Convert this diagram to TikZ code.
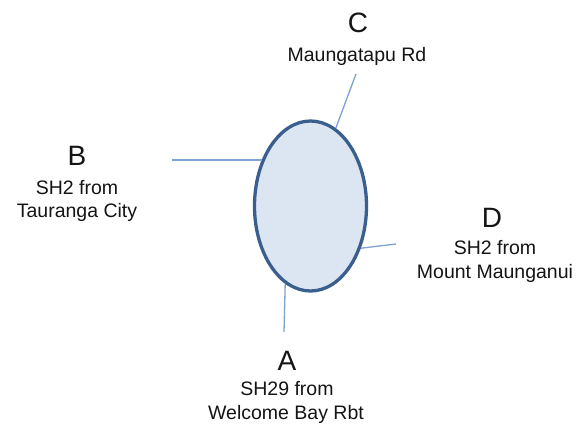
\documentclass[tikz,border=0pt]{standalone}
\usepackage{fontspec}
\setmainfont{Liberation Sans}
\usetikzlibrary{shapes.geometric}
\definecolor{rimblue}{HTML}{3A5F8E}
\definecolor{fillblue}{HTML}{DCE6F2}
\definecolor{roadblue}{HTML}{7EA2D2}
\definecolor{inkgrey}{HTML}{141414}
\tikzset{
  letter/.style={anchor=base, inner sep=0pt, text=inkgrey, font=\fontsize{28}{30}\selectfont},
  sub/.style={anchor=base, inner sep=0pt, text=inkgrey, font=\fontsize{19.5}{22}\selectfont},
  road/.style={draw=roadblue, line width=1.3pt},
  rbt/.style={ellipse, draw=rimblue, fill=fillblue, line width=3.3pt, minimum width=112pt, minimum height=170pt, inner sep=0pt}
}
\begin{document}
\begin{tikzpicture}[x=1pt,y=-1pt]
\useasboundingbox (0,0) rectangle (584,429);
\node[rbt] (e) at (310.5,206) {};
\coordinate (cC) at (356,74);
\coordinate (cB) at (172,160);
\coordinate (cD) at (396,244);
\coordinate (cA) at (284,332);
\draw[road] (e.72) -- (cC);
\draw[road] (cB -| e.136) -- (cB);
\draw[road] (e.-40) -- (cD);
\draw[road] (e.252) -- (cA);
\node[letter] (lC) at (358,32) {C};
\node[sub] (tC) at (357,61) {Maungatapu Rd};
\node[letter] (lB) at (77,165) {B};
\node[sub] (tB1) at (77,194) {SH2 from};
\node[sub] (tB2) at (77,217) {Tauranga City};
\node[letter] (lD) at (492,227) {D};
\node[sub] (tD1) at (495,254) {SH2 from};
\node[sub] (tD2) at (495,278) {Mount Maunganui};
\node[letter] (lA) at (287,370) {A};
\node[sub] (tA1) at (287,395) {SH29 from};
\node[sub] (tA2) at (286,419) {Welcome Bay Rbt};
\end{tikzpicture}
\end{document}
